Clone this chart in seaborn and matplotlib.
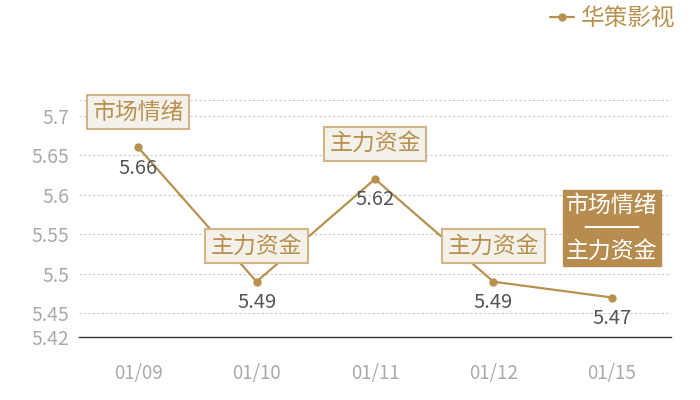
import matplotlib
matplotlib.use("Agg")
import matplotlib.pyplot as plt
import seaborn as sns
import pandas as pd

# chart data
dates = ["01/09", "01/10", "01/11", "01/12", "01/15"]
prices = [5.66, 5.49, 5.62, 5.49, 5.47]
tags = ["市场情绪", "主力资金", "主力资金", "主力资金", "市场情绪\n────\n主力资金"]
series_name = "华策影视"
y_ticks = [5.42, 5.45, 5.5, 5.55, 5.6, 5.65, 5.7]
y_min, y_max = 5.42, 5.72

gold = "#b8914f"
box_face = "#f4f0ea"
box_edge = "#d2b587"

sns.set_theme(style="white")
plt.rcParams['font.family'] = ['Noto Sans CJK SC', 'DejaVu Sans']

df = pd.DataFrame({"pos": range(len(dates)), "price": prices})

fig = plt.figure(figsize=(7, 4), dpi=100)
ax = fig.add_axes([79 / 700, 63 / 400, 592 / 700, 237 / 400])

sns.lineplot(data=df, x="pos", y="price", ax=ax, color=gold, lw=1.6,
             marker="o", markersize=6, markeredgewidth=0, label=series_name)

ax.set_xlim(-0.5, len(dates) - 0.5)
ax.set_ylim(y_min, y_max)
ax.set_xticks(range(len(dates)))
ax.set_xticklabels(dates)
ax.set_yticks(y_ticks)
ax.set_yticklabels([f"{v:g}" for v in y_ticks])
ax.set_xlabel("")
ax.set_ylabel("")
ax.tick_params(axis="x", length=0, pad=19, labelsize=13.5, labelcolor="#aaaaaa")
ax.tick_params(axis="y", length=0, pad=7, labelsize=14, labelcolor="#aaaaaa")

for v in y_ticks[1:] + [y_max]:
    ax.axhline(v, color="#c8c8c8", lw=0.8, ls=(0, (2, 2)), zorder=0)

for side in ["top", "right", "left"]:
    ax.spines[side].set_visible(False)
ax.spines["bottom"].set_color("#333333")
ax.spines["bottom"].set_linewidth(1.0)

# value labels under the points
for i, v in enumerate(prices):
    ax.annotate(f"{v:g}", (i, v), xytext=(0, -15), textcoords="offset points",
                ha="center", va="center", fontsize=14.5, color="#555555")

# tag boxes above the points
for i, (v, t) in enumerate(zip(prices, tags)):
    if "\n" in t:
        ax.annotate(t, (i, v), xytext=(0, 50), textcoords="offset points",
                    ha="center", va="center", fontsize=16.5, color="white",
                    family=['DejaVu Sans', 'Noto Sans CJK SC'],
                    linespacing=1.0, zorder=5,
                    bbox=dict(boxstyle="square,pad=0.15", fc="#b68d4f", ec="#b68d4f"))
    else:
        ax.annotate(t, (i, v), xytext=(0, 25.5), textcoords="offset points",
                    ha="center", va="center", fontsize=16.5, color=gold, zorder=5,
                    bbox=dict(boxstyle="square,pad=0.24", fc=box_face, ec=box_edge, lw=1.5))

ax.legend_.remove()
leg = fig.legend(loc="upper right", bbox_to_anchor=(0.995, 1.035), frameon=False,
                 fontsize=17, labelcolor=gold, handlelength=1.0, handletextpad=0.3)

fig.savefig("out.png", dpi=100)
